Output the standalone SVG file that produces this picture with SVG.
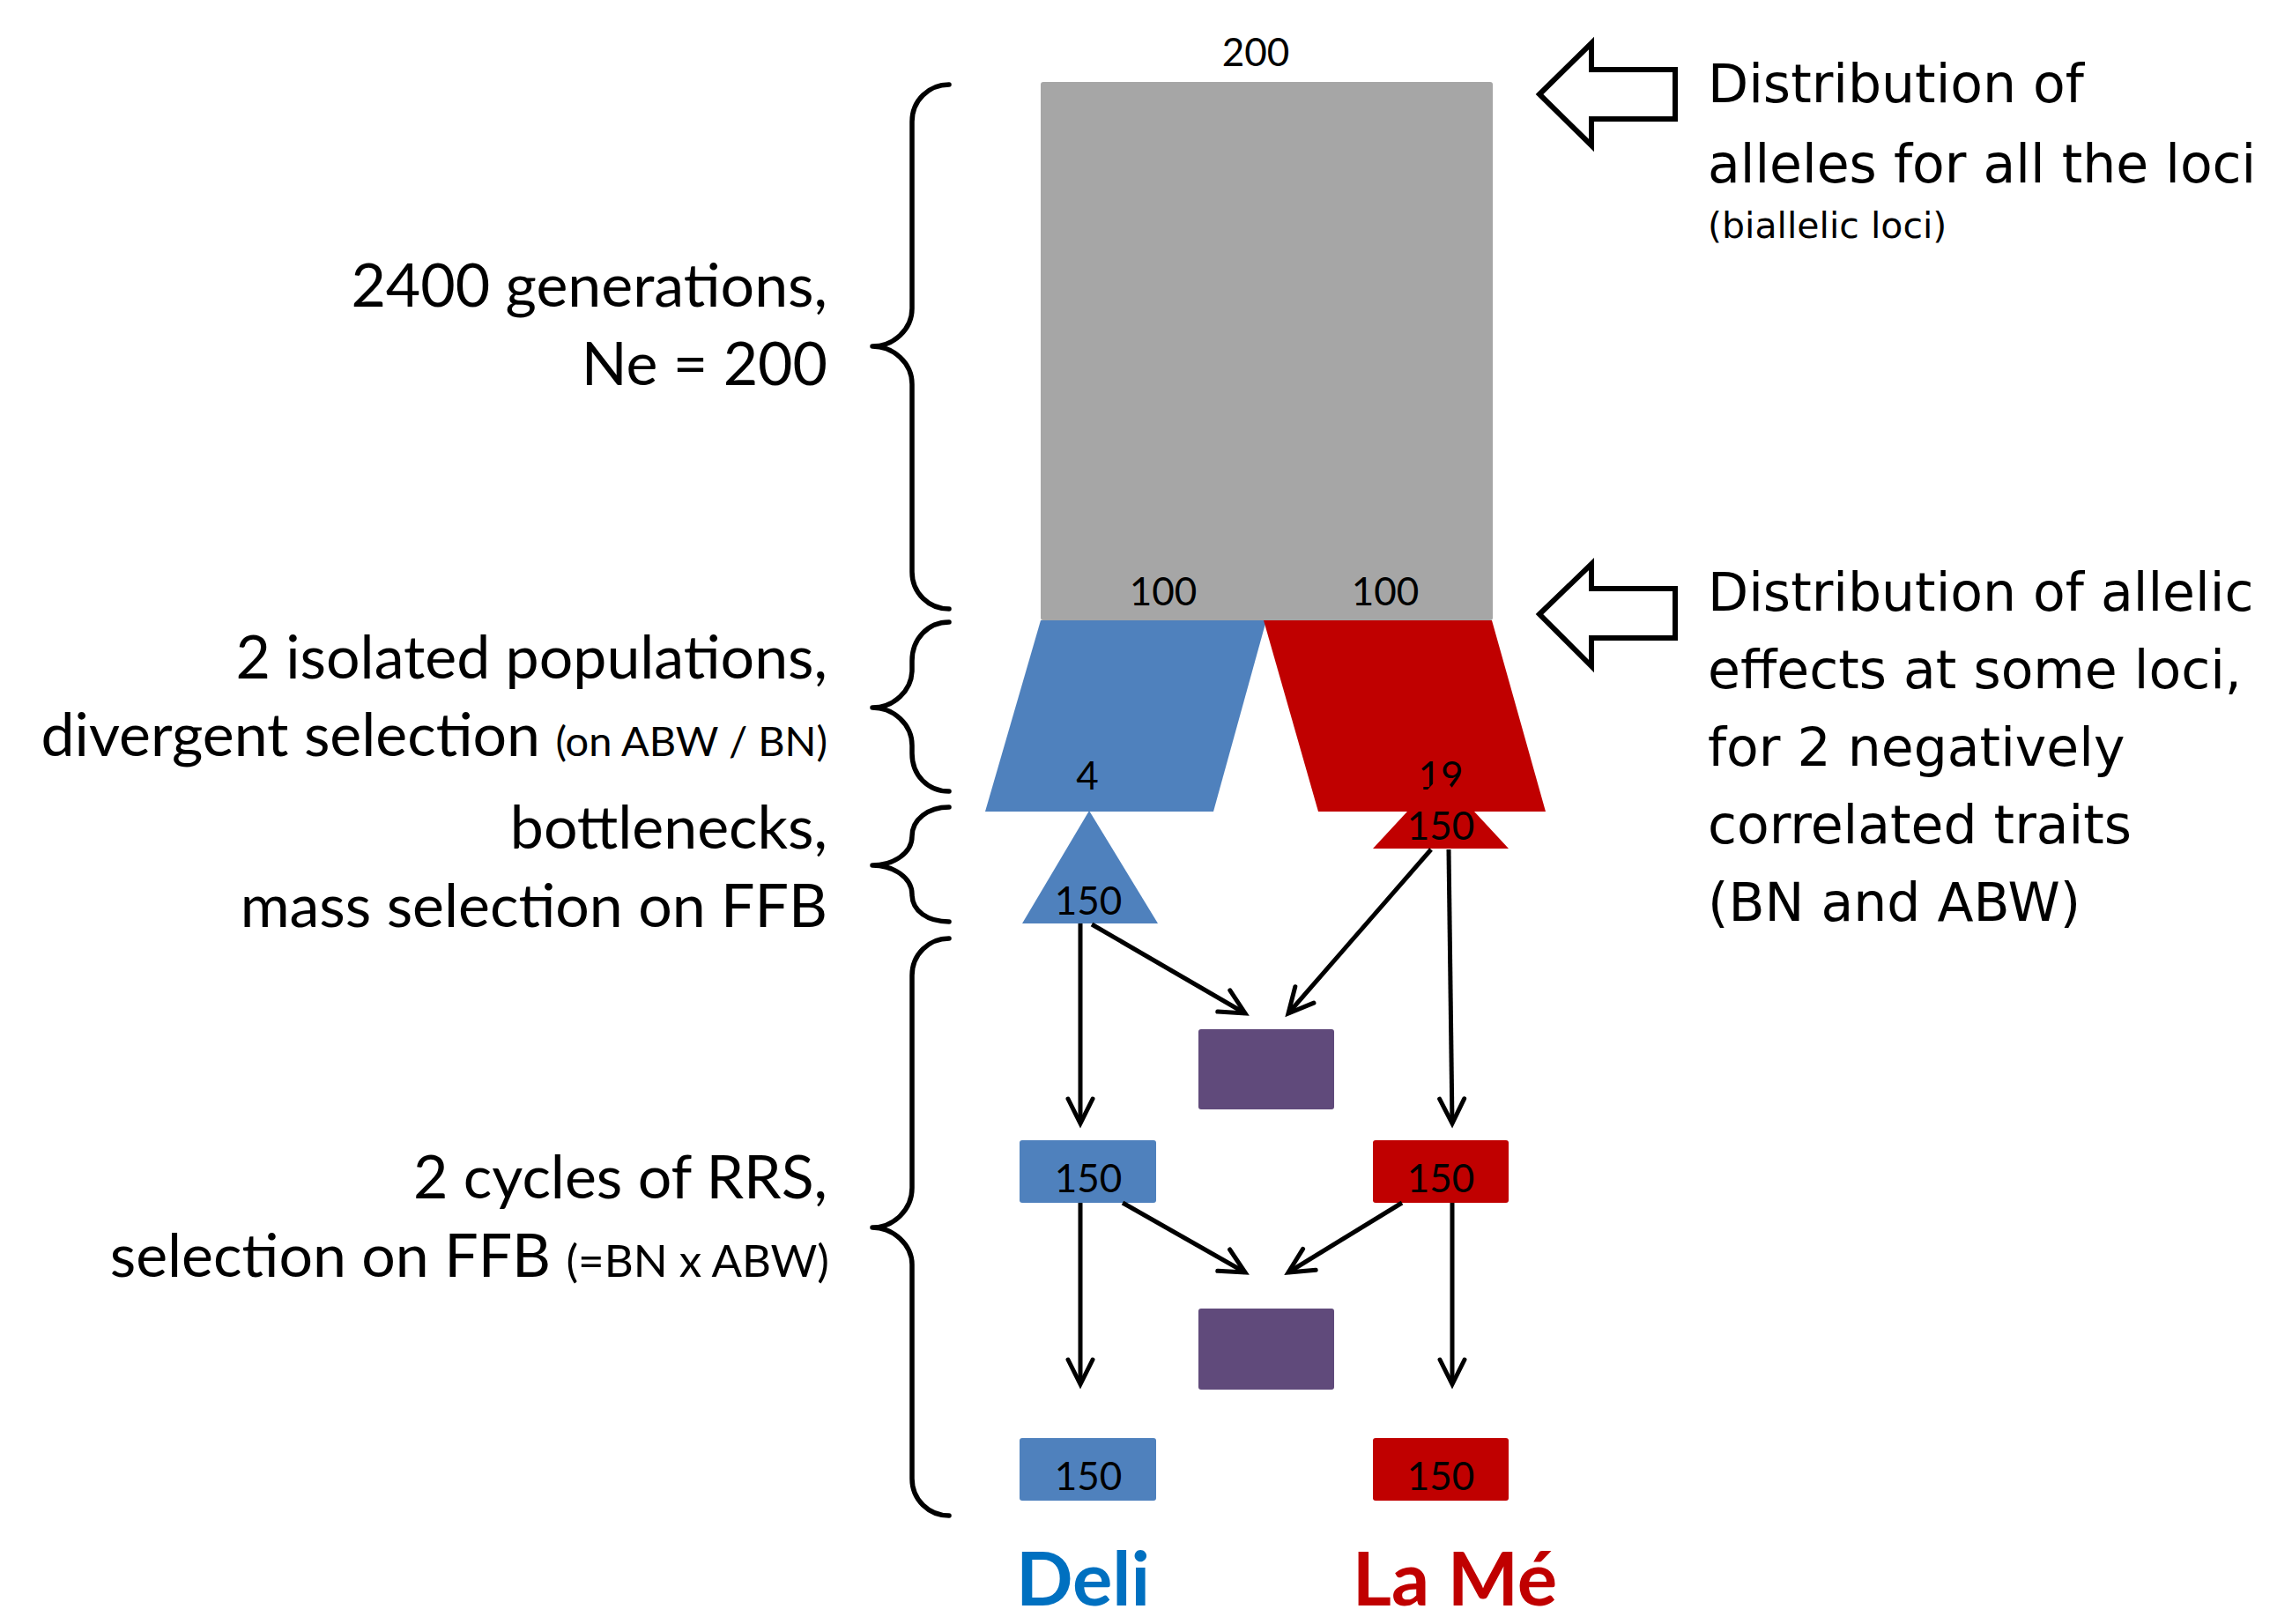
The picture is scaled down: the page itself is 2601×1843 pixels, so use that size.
<svg xmlns="http://www.w3.org/2000/svg" width="2601" height="1843" viewBox="0 0 2601 1843">
<style>
.lbl{font-family:Lato,"Open Sans",sans-serif;font-size:68px;fill:#000;text-anchor:end}
.sm{font-size:51px}
.sm2{font-size:47px}
.num{font-family:Lato,"Open Sans",sans-serif;font-size:44px;fill:#000;text-anchor:middle}
.rt{font-family:"DejaVu Sans",Verdana,sans-serif;font-size:60px;fill:#000}
.rts{font-size:41px}
.brace{fill:none;stroke:#000;stroke-width:5.5;stroke-linecap:round;stroke-linejoin:round}
.conn{fill:none;stroke:#000;stroke-width:5;marker-end:url(#vhead)}
.hollow{fill:#fff;stroke:#000;stroke-width:6;stroke-linejoin:miter}
.gray{fill:#A6A6A6}
.blue{fill:#4F81BD}
.red{fill:#C00000}
.purple{fill:#604A7B}
.name{font-family:Lato,"Open Sans",sans-serif;font-weight:bold;font-size:85px;text-anchor:middle}
</style>
<defs>
<marker id="vhead" viewBox="-34 -20 40 40" refX="0" refY="0" markerWidth="40" markerHeight="40" markerUnits="userSpaceOnUse" orient="auto">
<path d="M-28,-14 L0,0 L-28,14" fill="none" stroke="#000" stroke-width="5" stroke-linecap="round" stroke-linejoin="miter"/>
</marker>
</defs>
<rect width="2601" height="1843" fill="#fff"/>

<g id="braces">
<path class="brace" d="M1077,96 C1054,96 1035,114 1035,138 L1035,350 C1035,374 1014,393 990,393 C1014,393 1035,412 1035,436 L1035,649 C1035,673 1054,691 1077,691"/>
<path class="brace" d="M1077,706 C1053,706 1035,725 1035,750 L1035,760 C1035,784 1014,803 990,803 C1014,803 1035,822 1035,846 L1035,855 C1035,880 1053,898 1077,898"/>
<path class="brace" d="M1077,916 C1053,916 1035,930 1035,949 C1035,968 1014,982 990,982 C1014,982 1035,996 1035,1015 C1035,1034 1053,1046 1077,1046"/>
<path class="brace" d="M1077,1065 C1054,1065 1035,1083 1035,1107 L1035,1348 C1035,1373 1014,1393 990,1393 C1014,1393 1035,1413 1035,1435 L1035,1678 C1035,1702 1054,1720 1077,1720"/>
</g>

<g id="left-labels">
<text class="lbl" x="939" y="348">2400 generations,</text>
<text class="lbl" x="939" y="437">Ne = 200</text>
<text class="lbl" x="939" y="770">2 isolated populations,</text>
<text class="lbl" x="939" y="858">divergent selection <tspan class="sm2">(on ABW / BN)</tspan></text>
<text class="lbl" x="939" y="963">bottlenecks,</text>
<text class="lbl" x="939" y="1052">mass selection on FFB</text>
<text class="lbl" x="939" y="1360">2 cycles of RRS,</text>
<text class="lbl" x="941" y="1449">selection on FFB <tspan class="sm">(=BN x ABW)</tspan></text>
</g>

<g id="base-population">
<rect class="gray" x="1181" y="93" width="513" height="611" rx="3"/>
<text class="num" x="1425" y="75">200</text>
<text class="num" x="1320" y="687">100</text>
<text class="num" x="1572" y="687">100</text>
</g>

<g id="deli-divergent">
<polygon class="blue" points="1181,704 1437,704 1377,921 1118,921"/>
<text class="num" x="1234" y="896">4</text>
</g>
<g id="lame-divergent">
<polygon class="red" points="1434,704 1693,704 1754,921 1496,921"/>
<text class="num" x="1635" y="896">19</text>
</g>

<g id="deli-bottleneck">
<polygon class="blue" points="1236,920 1314,1048 1160,1048"/>
<text class="num" x="1235" y="1038">150</text>
</g>
<g id="lame-bottleneck">
<polygon class="red" points="1635,880 1712,963 1558,963"/>
<text class="num" x="1635" y="953">150</text>
</g>

<g id="cross-1"><rect class="purple" x="1360" y="1168" width="154" height="91" rx="3"/></g>
<g id="deli-cycle-1">
<rect class="blue" x="1157" y="1294" width="155" height="71" rx="3"/>
<text class="num" x="1235" y="1353">150</text>
</g>
<g id="lame-cycle-1">
<rect class="red" x="1558" y="1294" width="154" height="71" rx="3"/>
<text class="num" x="1635" y="1353">150</text>
</g>
<g id="cross-2"><rect class="purple" x="1360" y="1485" width="154" height="92" rx="3"/></g>
<g id="deli-cycle-2">
<rect class="blue" x="1157" y="1632" width="155" height="71" rx="3"/>
<text class="num" x="1235" y="1691">150</text>
</g>
<g id="lame-cycle-2">
<rect class="red" x="1558" y="1632" width="154" height="71" rx="3"/>
<text class="num" x="1635" y="1691">150</text>
</g>

<g id="connectors">
<line class="conn" x1="1226" y1="1048" x2="1226" y2="1275"/>
<line class="conn" x1="1239" y1="1049" x2="1413" y2="1150"/>
<line class="conn" x1="1624" y1="964" x2="1462" y2="1150"/>
<line class="conn" x1="1644" y1="964" x2="1648" y2="1275"/>
<line class="conn" x1="1226" y1="1365" x2="1226" y2="1571"/>
<line class="conn" x1="1274" y1="1365" x2="1413" y2="1444"/>
<line class="conn" x1="1591" y1="1365" x2="1462" y2="1444"/>
<line class="conn" x1="1648" y1="1365" x2="1648" y2="1571"/>
</g>

<g id="note-alleles">
<polygon class="hollow" points="1747,107 1806,49 1806,79 1901,79 1901,135 1806,135 1806,165"/>
<text class="rt" x="1938" y="116">Distribution of</text>
<text class="rt" x="1938" y="207">alleles for all the loci</text>
<text class="rt rts" x="1938" y="270">(biallelic loci)</text>
</g>
<g id="note-effects">
<polygon class="hollow" points="1747,697 1806,640 1806,668 1901,668 1901,724 1806,724 1806,756"/>
<text class="rt" x="1938" y="693">Distribution of allelic</text>
<text class="rt" x="1938" y="781">effects at some loci,</text>
<text class="rt" x="1938" y="869">for 2 negatively</text>
<text class="rt" x="1938" y="957">correlated traits</text>
<text class="rt" x="1938" y="1045">(BN and ABW)</text>
</g>

<g id="names">
<text class="name" x="1229" y="1822" fill="#0070C0">Deli</text>
<text class="name" x="1651" y="1822" fill="#C00000">La Mé</text>
</g>
</svg>
